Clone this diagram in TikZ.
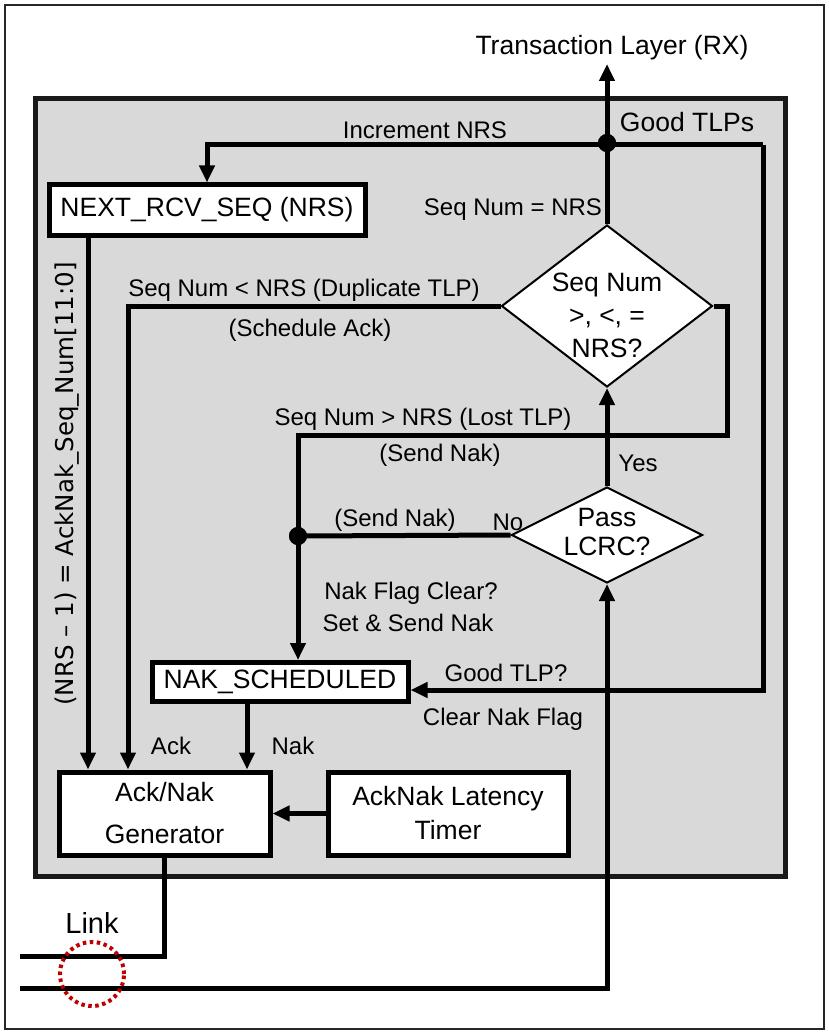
\documentclass[tikz,border=0pt]{standalone}
\usepackage{fontspec}
\setmainfont{Liberation Sans}
\newfontfamily\djv{DejaVu Sans}
\usetikzlibrary{arrows.meta,shapes.geometric,calc}
\definecolor{panel}{HTML}{D9D9D9}
\definecolor{linkred}{HTML}{C00000}
\tikzset{
  conn/.style={line width=5pt,line join=miter},
  arr/.style={conn,-{Triangle[width=15pt,length=17pt]}},
  box/.style={draw,line width=5pt,fill=white,inner sep=0pt,align=center,
    font=\fontsize{26.5}{32}\selectfont},
  dia/.style={draw,diamond,line width=2pt,fill=white,inner sep=0pt},
  lab/.style={inner sep=0pt,font=\fontsize{24}{28}\selectfont},
  big/.style={inner sep=0pt,align=center,font=\fontsize{26.5}{32}\selectfont},
  dot/.style={circle,fill=black,inner sep=0pt,minimum size=18pt},
}
\begin{document}
\begin{tikzpicture}[x=1pt,y=-1pt]
\useasboundingbox (0,0) rectangle (829,1035);
\draw[line width=1.5pt,black!85] (5,5) rectangle (824,1029);
\draw[line width=5pt,fill=panel,draw=black!90] (35,99) rectangle (785,876);

% boxes
\node[box,minimum width=316pt,minimum height=50pt] (nrs) at (207,210) {NEXT\_RCV\_SEQ (NRS)};
\node[box,minimum width=256pt,minimum height=39pt] (nak) at (280,682) {NAK\_SCHEDULED};
\node[box,minimum width=211pt,minimum height=83pt] (gen) at (164.5,813.5) {Ack/Nak\\[10pt]Generator};
\node[box,minimum width=240pt,minimum height=83pt] (timer) at (448,813.5) {AckNak Latency\\[2pt]Timer};

% diamonds
\node[dia,minimum width=211pt,minimum height=162pt] (d1) at (607,306) {};
\node[big,font=\fontsize{26.5}{33}\selectfont] (d1t) at (607,315) {Seq Num\\{>}, {<}, =\\NRS?};
\node[dia,minimum width=191pt,minimum height=96pt] (d2) at (607,535) {};
\node[big,font=\fontsize{26.5}{29}\selectfont] (d2t) at (607,532) {Pass\\LCRC?};

% junction dots and coordinates
\node[dot] (dot1) at (607,143) {};
\node[dot] (dot2) at (298,536) {};
\coordinate (tl) at (607,64);
\coordinate (ctr) at (763,145);
\coordinate (cbr) at (763,690);
\coordinate (cr1) at (727,435);
\coordinate (cl) at (298,435);
\coordinate (ackx) at (128,0);
\coordinate (seqx) at (88,0);
\coordinate (nakx) at (247,0);
\coordinate (lk1) at (20,956);
\coordinate (lk2) at (20,988);

% connectors
\draw[arr] (d1.north) -- (tl);
\draw[arr] (ctr) -| (nrs.north);
\draw[arr] (ctr) -- (cbr) -- (cbr -| nak.east);
\draw[arr] (d1.east) -| (cr1) -- (cl) -- (cl |- nak.north);
\draw[conn] (d2.west) -- (dot2.center);
\draw[arr] (d1.west) -| (ackx |- gen.north);
\draw[arr] (seqx |- nrs.south) -- (seqx |- gen.north);
\draw[arr] (nakx |- nak.south) -- (nakx |- gen.north);
\draw[arr] (timer.west) -- (gen.east);
\draw[arr] (d2.north) -- (d1.south);
\draw[conn] (gen.south) |- (lk1);
\draw[arr] (lk2) -| (d2.south);
\node[dot] at (dot1) {};
\node[dot] at (dot2) {};

% labels
\node[big] (tlx) at (612,48) {Transaction Layer (RX)};
\node[big] (gtlps) at (687,122) {Good TLPs};
\node[lab] (inc) at (425,130) {Increment NRS};
\node[lab] (eq) at (513,210) {Seq Num = NRS};
\node[lab] (lt) at (304,290) {Seq Num < NRS (Duplicate TLP)};
\node[lab] (sa) at (310,330) {(Schedule Ack)};
\node[lab] (gt) at (423,419) {Seq Num > NRS (Lost TLP)};
\node[lab] (sn1) at (440,455) {(Send Nak)};
\node[lab] (yes) at (638,463) {Yes};
\node[lab] (sn2) at (395,520) {(Send Nak)};
\node[lab] (no) at (508,522) {No};
\node[lab] (nf1) at (411,593) {Nak Flag Clear?};
\node[lab] (nf2) at (408,623) {Set \& Send Nak};
\node[lab] (gtlp) at (506,673) {Good TLP?};
\node[lab] (cnf) at (503,719) {Clear Nak Flag};
\node[lab] (ack) at (171,746) {Ack};
\node[lab] (nakl) at (293,746) {Nak};
\node[inner sep=0pt,rotate=90,font=\djv\fontsize{24.5}{28}\selectfont] (seqlab) at (67,484) {(NRS – 1) = AckNak\_Seq\_Num[11:0]};
\node[inner sep=0pt,font=\fontsize{29}{32}\selectfont] (link) at (92,923) {Link};

% link marker
\draw[linkred,line width=4pt,dash pattern=on 3.5pt off 3.5pt] (92,974) circle (32pt);
\end{tikzpicture}
\end{document}
